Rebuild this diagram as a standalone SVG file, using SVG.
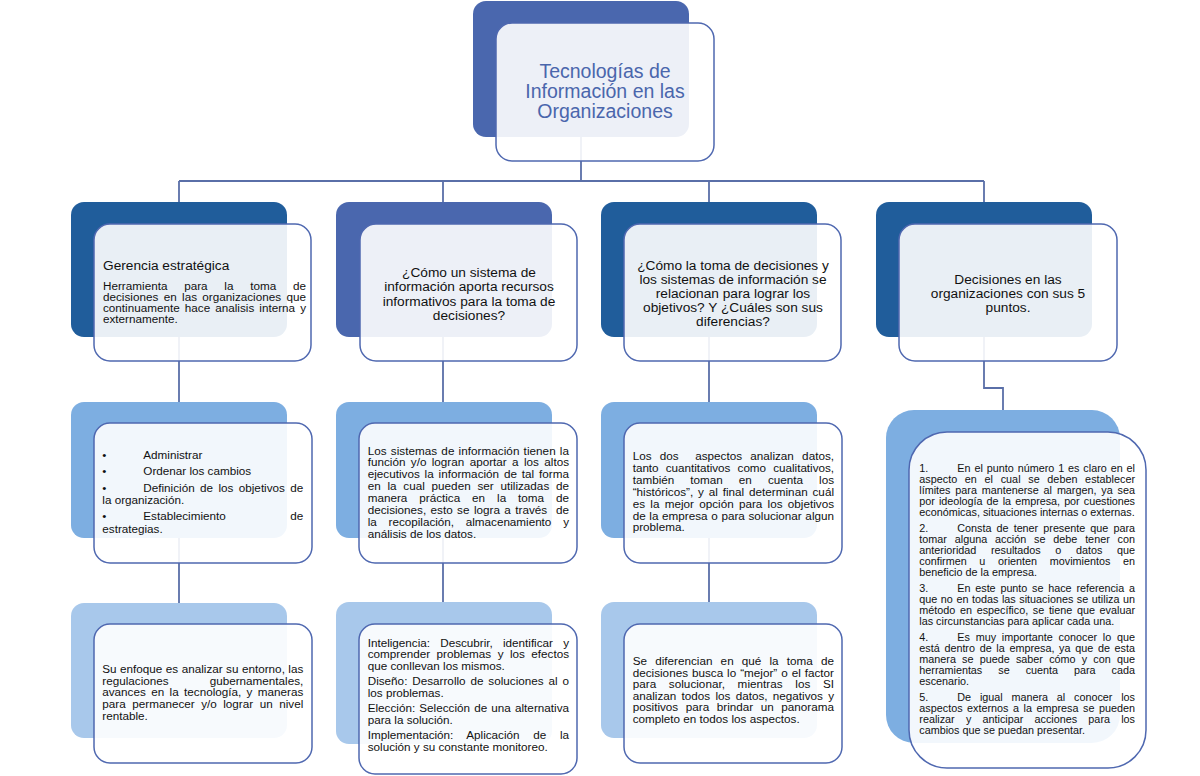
<svg xmlns="http://www.w3.org/2000/svg" width="1200" height="776" viewBox="0 0 1200 776">
<defs>
<style>
.conn{stroke:#5a6fa8;stroke-width:1.8;fill:none}
.front{fill:#ffffff;fill-opacity:0.9;stroke:#4f68b0;stroke-width:1.5}
.dk{fill:#205d9b}
.md{fill:#4a67ae}
.l2{fill:#7daee1}
.l3{fill:#a8c8eb}
.t{font-family:"Liberation Sans",Arial,sans-serif;fill:#111}
.b{font-size:11.7px}
.c4{font-size:10.8px}
.h{font-size:13.7px}
.hc{font-size:13.7px;text-anchor:middle}
.title{font-family:"Liberation Sans",Arial,sans-serif;font-size:19.5px;fill:#4a66ac;text-anchor:middle}
.e{text-anchor:end}
</style>
</defs>
<rect width="1200" height="776" fill="#ffffff"/>
<g id="connectors" class="conn">
<path d="M581 137V181M179 181H984M179 181V603M443 181V602M709 181V602M984 181V388H1003V410"/>
</g>
<g id="n0">
<rect class="md" x="473" y="1" width="216" height="136" rx="13"/>
<rect class="front" x="496" y="23" width="218" height="138" rx="16"/>
<text class="title" x="605" y="78">Tecnologías de</text>
<text class="title" x="605" y="98">Información en las</text>
<text class="title" x="605" y="118">Organizaciones</text>
</g>
<g id="n1">
<rect class="dk" x="71" y="202" width="216" height="135" rx="13"/>
<rect class="front" x="94" y="224" width="217" height="137" rx="16"/>
<text class="t h" x="103" y="270">Gerencia estratégica</text>
<text class="t b" x="103" y="289.8" textLength="203" lengthAdjust="spacing" style="word-spacing:13.5px">Herramienta para la toma de</text>
<text class="t b" x="103" y="300.9" textLength="203" lengthAdjust="spacing" style="word-spacing:2.1px">decisiones en las organizaciones que</text>
<text class="t b" x="103" y="312" textLength="203" lengthAdjust="spacing" style="word-spacing:1.8px">continuamente hace analisis interna y</text>
<text class="t b" x="103" y="323.1">externamente.</text>
</g>
<g id="n2">
<rect class="md" x="336" y="202" width="216" height="135" rx="13"/>
<rect class="front" x="360" y="224" width="217" height="137" rx="16"/>
<text class="t hc" x="469" y="277">¿Cómo un sistema de</text>
<text class="t hc" x="469" y="291.3">información aporta recursos</text>
<text class="t hc" x="469" y="305.6">informativos para la toma de</text>
<text class="t hc" x="469" y="320">decisiones?</text>
</g>
<g id="n3">
<rect class="dk" x="601" y="202" width="216" height="135" rx="13"/>
<rect class="front" x="624" y="224" width="217" height="137" rx="16"/>
<text class="t hc" x="733" y="270">¿Cómo la toma de decisiones y</text>
<text class="t hc" x="733" y="284">los sistemas de información se</text>
<text class="t hc" x="733" y="298">relacionan para lograr los</text>
<text class="t hc" x="733" y="312">objetivos? Y ¿Cuáles son sus</text>
<text class="t hc" x="733" y="326">diferencias?</text>
</g>
<g id="n4">
<rect class="dk" x="876" y="202" width="216" height="135" rx="13"/>
<rect class="front" x="899" y="224" width="218" height="137" rx="16"/>
<text class="t hc" x="1008" y="284">Decisiones en las</text>
<text class="t hc" x="1008" y="298">organizaciones con sus 5</text>
<text class="t hc" x="1008" y="312">puntos.</text>
</g>
<g id="n5">
<rect class="l2" x="71" y="402" width="216" height="136" rx="13"/>
<rect class="front" x="94" y="423" width="218" height="140" rx="16"/>
<text class="t b" x="102.3" y="459">•</text>
<text class="t b" x="143.3" y="459">Administrar</text>
<text class="t b" x="102.3" y="475.3">•</text>
<text class="t b" x="143.3" y="475.3">Ordenar los cambios</text>
<text class="t b" x="102.3" y="491.6">•</text>
<text class="t b" x="143.3" y="491.6" textLength="160" lengthAdjust="spacing" style="word-spacing:2.1px">Definición de los objetivos de</text>
<text class="t b" x="102.3" y="504.1">la organización.</text>
<text class="t b" x="102.3" y="520.4">•</text>
<text class="t b" x="143.3" y="520.4">Establecimiento</text>
<text class="t b e" x="303.3" y="520.4">de</text>
<text class="t b" x="102.3" y="532.9">estrategias.</text>
</g>
<g id="n6">
<rect class="l2" x="336" y="402" width="216" height="136" rx="13"/>
<rect class="front" x="359" y="423" width="218" height="140" rx="16"/>
<text class="t b" x="367.7" y="454.5" textLength="201.3" lengthAdjust="spacing" style="word-spacing:0.9px">Los sistemas de información tienen la</text>
<text class="t b" x="367.7" y="466.4" textLength="201.3" lengthAdjust="spacing" style="word-spacing:2.1px">función y/o logran aportar a los altos</text>
<text class="t b" x="367.7" y="478.3" textLength="201.3" lengthAdjust="spacing" style="word-spacing:1.6px">ejecutivos la información de tal forma</text>
<text class="t b" x="367.7" y="490.2" textLength="201.3" lengthAdjust="spacing" style="word-spacing:3.5px">en la cual pueden ser utilizadas de</text>
<text class="t b" x="367.7" y="502.1" textLength="201.3" lengthAdjust="spacing" style="word-spacing:8.7px">manera práctica en la toma de</text>
<text class="t b" x="367.7" y="514" textLength="201.3" lengthAdjust="spacing" style="word-spacing:1.2px" xml:space="preserve">decisiones, esto se logra a través  de</text>
<text class="t b" x="367.7" y="525.9" textLength="201.3" lengthAdjust="spacing" style="word-spacing:8.6px">la recopilación, almacenamiento y</text>
<text class="t b" x="367.7" y="537.8">análisis de los datos.</text>
</g>
<g id="n7">
<rect class="l2" x="601" y="402" width="216" height="136" rx="13"/>
<rect class="front" x="624" y="423" width="218" height="140" rx="16"/>
<text class="t b" x="632.7" y="460" textLength="201.3" lengthAdjust="spacing" style="word-spacing:5px" xml:space="preserve">Los dos  aspectos analizan datos,</text>
<text class="t b" x="632.7" y="471.9" textLength="201.3" lengthAdjust="spacing" style="word-spacing:4px">tanto cuantitativos como cualitativos,</text>
<text class="t b" x="632.7" y="483.8" textLength="201.3" lengthAdjust="spacing" style="word-spacing:12.8px">también toman en cuenta los</text>
<text class="t b" x="632.7" y="495.7" textLength="201.3" lengthAdjust="spacing" style="word-spacing:1.6px">“históricos”, y al final determinan cuál</text>
<text class="t b" x="632.7" y="507.6" textLength="201.3" lengthAdjust="spacing" style="word-spacing:2px">es la mejor opción para los objetivos</text>
<text class="t b" x="632.7" y="519.5" textLength="201.3" lengthAdjust="spacing" style="word-spacing:0.4px">de la empresa o para solucionar algun</text>
<text class="t b" x="632.7" y="531.4">problema.</text>
</g>
<g id="n8">
<rect class="l2" x="886" y="410" width="234" height="333" rx="28"/>
<rect class="front" x="909" y="432" width="237" height="336" rx="38"/>
<text class="t c4" x="919.3" y="472">1.</text>
<text class="t c4" x="957.3" y="472" textLength="177.7" lengthAdjust="spacing" style="word-spacing:0.9px">En el punto número 1 es claro en el</text>
<text class="t c4" x="919.3" y="483" textLength="215.7" lengthAdjust="spacing" style="word-spacing:4.7px">aspecto en el cual se deben establecer</text>
<text class="t c4" x="919.3" y="494" textLength="215.7" lengthAdjust="spacing" style="word-spacing:1.9px">límites para mantenerse al margen, ya sea</text>
<text class="t c4" x="919.3" y="505" textLength="215.7" lengthAdjust="spacing" style="word-spacing:1.3px">por ideología de la empresa, por cuestiones</text>
<text class="t c4" x="919.3" y="516">económicas, situaciones internas o externas.</text>
<text class="t c4" x="919.3" y="532">2.</text>
<text class="t c4" x="957.3" y="532" textLength="177.7" lengthAdjust="spacing" style="word-spacing:2.2px">Consta de tener presente que para</text>
<text class="t c4" x="919.3" y="543" textLength="215.7" lengthAdjust="spacing" style="word-spacing:4.8px">tomar alguna acción se debe tener con</text>
<text class="t c4" x="919.3" y="554" textLength="215.7" lengthAdjust="spacing" style="word-spacing:11.6px">anterioridad resultados o datos que</text>
<text class="t c4" x="919.3" y="565" textLength="215.7" lengthAdjust="spacing" style="word-spacing:9.7px">confirmen u orienten movimientos en</text>
<text class="t c4" x="919.3" y="576">beneficio de la empresa.</text>
<text class="t c4" x="919.3" y="592">3.</text>
<text class="t c4" x="957.3" y="592" textLength="177.7" lengthAdjust="spacing" style="word-spacing:1.9px">En este punto se hace referencia a</text>
<text class="t c4" x="919.3" y="603" textLength="215.7" lengthAdjust="spacing" style="word-spacing:0.5px">que no en todas las situaciones se utiliza un</text>
<text class="t c4" x="919.3" y="614" textLength="215.7" lengthAdjust="spacing" style="word-spacing:1.7px">método en específico, se tiene que evaluar</text>
<text class="t c4" x="919.3" y="625">las circunstancias para aplicar cada una.</text>
<text class="t c4" x="919.3" y="641">4.</text>
<text class="t c4" x="957.3" y="641" textLength="177.7" lengthAdjust="spacing" style="word-spacing:2.8px">Es muy importante conocer lo que</text>
<text class="t c4" x="919.3" y="652" textLength="215.7" lengthAdjust="spacing" style="word-spacing:1.7px">está dentro de la empresa, ya que de esta</text>
<text class="t c4" x="919.3" y="663" textLength="215.7" lengthAdjust="spacing" style="word-spacing:3.2px">manera se puede saber cómo y con que</text>
<text class="t c4" x="919.3" y="674" textLength="215.7" lengthAdjust="spacing" style="word-spacing:13px">herramientas se cuenta para cada</text>
<text class="t c4" x="919.3" y="685">escenario.</text>
<text class="t c4" x="919.3" y="701">5.</text>
<text class="t c4" x="957.3" y="701" textLength="177.7" lengthAdjust="spacing" style="word-spacing:5.8px">De igual manera al conocer los</text>
<text class="t c4" x="919.3" y="712" textLength="215.7" lengthAdjust="spacing" style="word-spacing:1.5px">aspectos externos a la empresa se pueden</text>
<text class="t c4" x="919.3" y="723" textLength="215.7" lengthAdjust="spacing" style="word-spacing:8.2px">realizar y anticipar acciones para los</text>
<text class="t c4" x="919.3" y="734">cambios que se puedan presentar.</text>
</g>
<g id="n9">
<rect class="l3" x="71" y="603" width="216" height="135" rx="13"/>
<rect class="front" x="94" y="624" width="218" height="139" rx="16"/>
<text class="t b" x="102.3" y="672.7" textLength="201" lengthAdjust="spacing" style="word-spacing:0.2px">Su enfoque es analizar su entorno, las</text>
<text class="t b" x="102.3" y="684.5">regulaciones</text>
<text class="t b e" x="303.3" y="684.5">gubernamentales,</text>
<text class="t b" x="102.3" y="696.3" textLength="201" lengthAdjust="spacing" style="word-spacing:2.2px">avances en la tecnología, y maneras</text>
<text class="t b" x="102.3" y="708.1" textLength="201" lengthAdjust="spacing" style="word-spacing:3.3px">para permanecer y/o lograr un nivel</text>
<text class="t b" x="102.3" y="719.9">rentable.</text>
</g>
<g id="n10">
<rect class="l3" x="336" y="602" width="216" height="142" rx="13"/>
<rect class="front" x="359" y="624" width="218" height="150" rx="16"/>
<text class="t b" x="367.7" y="646.5" textLength="201.3" lengthAdjust="spacing" style="word-spacing:7px">Inteligencia: Descubrir, identificar y</text>
<text class="t b" x="367.7" y="658" textLength="201.3" lengthAdjust="spacing" style="word-spacing:3.2px">comprender problemas y los efectos</text>
<text class="t b" x="367.7" y="669.5">que conllevan los mismos.</text>
<text class="t b" x="367.7" y="685" textLength="201.3" lengthAdjust="spacing" style="word-spacing:1.6px">Diseño: Desarrollo de soluciones al o</text>
<text class="t b" x="367.7" y="696.5">los problemas.</text>
<text class="t b" x="367.7" y="712" textLength="201.3" lengthAdjust="spacing" style="word-spacing:0.9px">Elección: Selección de una alternativa</text>
<text class="t b" x="367.7" y="723.5">para la solución.</text>
<text class="t b" x="367.7" y="739" textLength="201.3" lengthAdjust="spacing" style="word-spacing:10.5px">Implementación: Aplicación de la</text>
<text class="t b" x="367.7" y="750.5">solución y su constante monitoreo.</text>
</g>
<g id="n11">
<rect class="l3" x="601" y="602" width="216" height="136" rx="13"/>
<rect class="front" x="624" y="624" width="218" height="139" rx="16"/>
<text class="t b" x="632.7" y="665.3" textLength="201.3" lengthAdjust="spacing" style="word-spacing:4.9px">Se diferencian en qué la toma de</text>
<text class="t b" x="632.7" y="676.8" textLength="201.3" lengthAdjust="spacing" style="word-spacing:0.7px">decisiones busca lo “mejor” o el factor</text>
<text class="t b" x="632.7" y="688.3" textLength="201.3" lengthAdjust="spacing" style="word-spacing:9.4px">para solucionar, mientras los SI</text>
<text class="t b" x="632.7" y="699.8" textLength="201.3" lengthAdjust="spacing" style="word-spacing:2px">analizan todos los datos, negativos y</text>
<text class="t b" x="632.7" y="711.3" textLength="201.3" lengthAdjust="spacing" style="word-spacing:4.3px">positivos para brindar un panorama</text>
<text class="t b" x="632.7" y="722.8">completo en todos los aspectos.</text>
</g>
</svg>
